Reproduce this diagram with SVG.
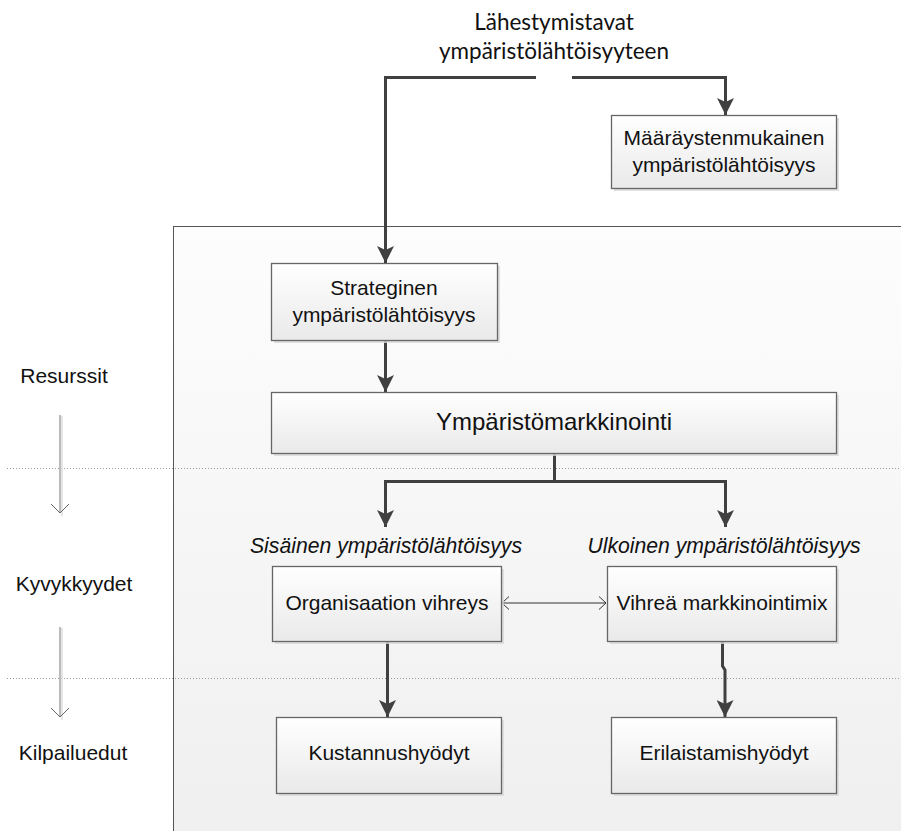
<svg xmlns="http://www.w3.org/2000/svg" width="901" height="831" viewBox="0 0 901 831">
<defs>
<linearGradient id="bg" x1="0" y1="0" x2="0" y2="1">
<stop offset="0" stop-color="#fdfdfd"/><stop offset="1" stop-color="#efefef"/>
</linearGradient>
<linearGradient id="box" x1="0" y1="0" x2="0" y2="1">
<stop offset="0" stop-color="#ffffff"/><stop offset="1" stop-color="#e9e9e9"/>
</linearGradient>
<marker id="ah" viewBox="0 0 17 17" refX="17" refY="8.5" markerWidth="17" markerHeight="17" markerUnits="userSpaceOnUse" orient="auto">
<path d="M0,0 L17,8.5 L0,17 L4,8.5 Z" fill="#404040"/>
</marker>
<marker id="open" viewBox="0 0 8 14" refX="7.5" refY="7" markerWidth="8" markerHeight="14" markerUnits="userSpaceOnUse" orient="auto-start-reverse">
<path d="M0.5,0.5 L7.5,7 L0.5,13.5" fill="none" stroke="#333" stroke-width="1"/>
</marker>
<marker id="openg" viewBox="0 0 10 20" refX="9.5" refY="10" markerWidth="10" markerHeight="20" markerUnits="userSpaceOnUse" orient="auto">
<path d="M0.5,1 L9.5,10 L0.5,19" fill="none" stroke="#666" stroke-width="1"/>
</marker>
</defs>
<style>
.t{font-family:"Liberation Sans",Arial,sans-serif;fill:#111;text-anchor:middle}
.b{fill:url(#box);stroke:#666;stroke-width:1.3}
.sh{fill:#d8d8d8;opacity:.8}
.c{fill:none;stroke:#404040;stroke-width:3}
.dot{stroke:#999;stroke-width:1;stroke-dasharray:1 2}
</style>
<rect width="901" height="831" fill="#fff"/>
<rect id="container" x="173.5" y="226.5" width="740" height="620" fill="url(#bg)" stroke="#555" stroke-width="1"/>
<line class="dot" x1="7" y1="468.5" x2="901" y2="468.5"/>
<line class="dot" x1="7" y1="678.5" x2="901" y2="678.5"/>

<g id="side">
<text class="t" x="64" y="383" font-size="21">Resurssit</text>
<text class="t" x="74" y="591" font-size="21">Kyvykkyydet</text>
<text class="t" x="73" y="760" font-size="21">Kilpailuedut</text>
<line x1="62" y1="416" x2="62" y2="516" stroke="#ddd" stroke-width="1.5"/>
<line x1="60" y1="415" x2="60" y2="513" stroke="#777" stroke-width="1" marker-end="url(#openg)"/>
<line x1="62" y1="628" x2="62" y2="720" stroke="#ddd" stroke-width="1.5"/>
<line x1="60" y1="627" x2="60" y2="717" stroke="#777" stroke-width="1" marker-end="url(#openg)"/>
</g>

<g id="title">
<text x="554" y="30" font-family="Lato,'Open Sans',sans-serif" font-size="22.5" fill="#111" text-anchor="middle">Lähestymistavat</text>
<text x="554" y="59" font-family="Lato,'Open Sans',sans-serif" font-size="22.5" fill="#111" text-anchor="middle">ympäristölähtöisyyteen</text>
</g>

<g id="connectors">
<path class="c" d="M536,77.5 H385.5 V263" marker-end="url(#ah)"/>
<path class="c" d="M572,77.5 H725.5 V115" marker-end="url(#ah)"/>
<path class="c" d="M385.5,340 V392" marker-end="url(#ah)"/>
<path class="c" d="M554.5,453 V481.5 M384,481.5 H727 M385.5,480 V527" marker-end="url(#ah)"/>
<path class="c" d="M725.5,480 V527" marker-end="url(#ah)"/>
<path class="c" d="M387.5,641 V717" marker-end="url(#ah)"/>
<path class="c" d="M722.5,641 V666 L725,670 V717" marker-end="url(#ah)"/>
<line x1="502" y1="603" x2="606" y2="603" stroke="#333" stroke-width="1" marker-start="url(#open)" marker-end="url(#open)"/>
</g>

<g id="maaraystenmukainen">
<rect class="sh" x="614" y="118" width="225" height="73"/>
<rect class="b" x="611.5" y="115.5" width="225" height="73"/>
<text class="t" x="724" y="145" font-size="21">Määräystenmukainen</text>
<text class="t" x="724" y="172" font-size="21">ympäristölähtöisyys</text>
</g>

<g id="strateginen">
<rect class="sh" x="274" y="266" width="226" height="77"/>
<rect class="b" x="271.5" y="263.5" width="226" height="77"/>
<text class="t" x="384" y="295" font-size="21">Strateginen</text>
<text class="t" x="384" y="322" font-size="21">ympäristölähtöisyys</text>
</g>

<g id="ymparistomarkkinointi">
<rect class="sh" x="274" y="395" width="565" height="61"/>
<rect class="b" x="271.5" y="392.5" width="565" height="61"/>
<text class="t" x="554" y="430" font-size="24">Ympäristömarkkinointi</text>
</g>

<g id="labels">
<text class="t" x="386" y="553" font-size="21.2" font-style="italic">Sisäinen ympäristölähtöisyys</text>
<text class="t" x="724" y="553" font-size="21.2" font-style="italic">Ulkoinen ympäristölähtöisyys</text>
</g>

<g id="organisaation">
<rect class="sh" x="275" y="569" width="229" height="75"/>
<rect class="b" x="272.5" y="566.5" width="229" height="75"/>
<text class="t" x="387" y="610" font-size="21">Organisaation vihreys</text>
</g>

<g id="vihrea">
<rect class="sh" x="610" y="569" width="229" height="75"/>
<rect class="b" x="607.5" y="566.5" width="229" height="75"/>
<text class="t" x="722" y="610" font-size="21">Vihreä markkinointimix</text>
</g>

<g id="kustannus">
<rect class="sh" x="279" y="720" width="225" height="76"/>
<rect class="b" x="276.5" y="717.5" width="225" height="76"/>
<text class="t" x="389" y="760" font-size="21">Kustannushyödyt</text>
</g>

<g id="erilaistamis">
<rect class="sh" x="614" y="720" width="225" height="76"/>
<rect class="b" x="611.5" y="717.5" width="225" height="76"/>
<text class="t" x="724" y="760" font-size="21">Erilaistamishyödyt</text>
</g>
</svg>
